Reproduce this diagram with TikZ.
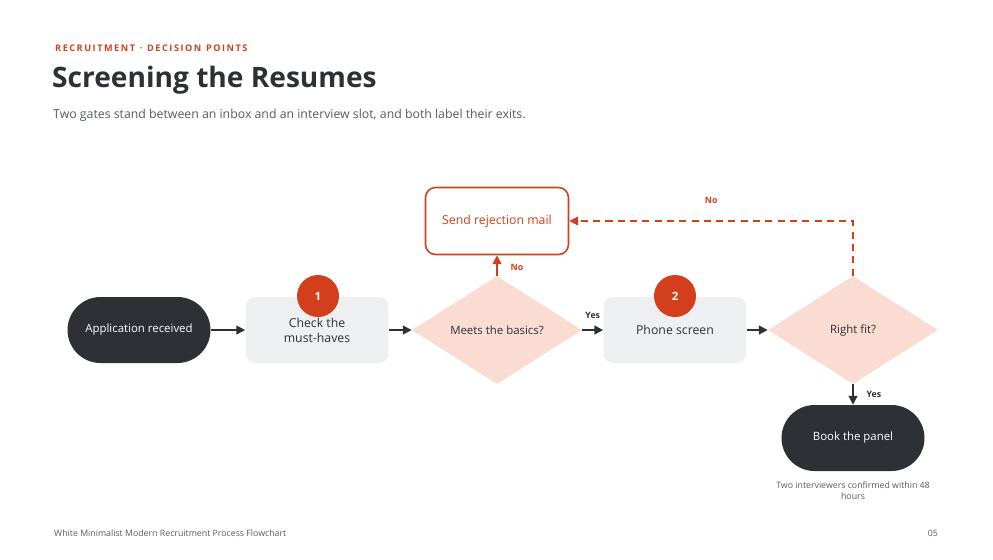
\documentclass[tikz,border=0pt]{standalone}
\usepackage{fontspec}
\setmainfont{Open Sans}
\usetikzlibrary{shapes.geometric,arrows.meta}
\definecolor{ink}{HTML}{2D3035}
\definecolor{rust}{HTML}{D33F1C}
\definecolor{blush}{HTML}{FADCD2}
\definecolor{mist}{HTML}{EEEFF1}
\definecolor{grey}{HTML}{555A60}
\tikzset{
	pill/.style={rounded corners=33*0.02cm, fill=ink, text=white, minimum width=2.86cm, minimum height=1.32cm, font=\fontsize{6.5}{8}\selectfont},
	box/.style={rounded corners=0.2cm, fill=mist, text=ink, minimum width=2.86cm, minimum height=1.32cm, align=center, font=\fontsize{7}{8.5}\selectfont},
	gate/.style={diamond, aspect=1.57, fill=blush, text=ink, inner sep=0pt, minimum width=3.4cm, minimum height=2.16cm, font=\fontsize{6.5}{8}\selectfont},
	badge/.style={circle, fill=rust, text=white, minimum size=0.84cm, inner sep=0pt, font=\bfseries\fontsize{6.5}{8}\selectfont},
	flow/.style={-{Triangle[length=5pt,width=5pt]}, ink, line width=0.9pt},
	back/.style={-{Triangle[length=5pt,width=5pt]}, rust, line width=0.9pt},
	tag/.style={font=\bfseries\fontsize{5}{6}\selectfont},
}
\begin{document}
\begin{tikzpicture}[x=0.02cm,y=-0.02cm]
	\useasboundingbox (0,0) rectangle (993,559);
	
	\node[anchor=west, text=rust, font=\bfseries\fontsize{5.2}{6}\selectfont] (kicker) at (49,48) {R\,E\,C\,R\,U\,I\,T\,M\,E\,N\,T\ \ ·\ \ D\,E\,C\,I\,S\,I\,O\,N\ \ P\,O\,I\,N\,T\,S};
	\node[anchor=west, text=ink, font=\bfseries\fontsize{16}{18}\selectfont] (title) at (46,80) {Screening the Resumes};
	\node[anchor=west, text=grey, font=\fontsize{7}{8}\selectfont] (sub) at (47,115) {Two gates stand between an inbox and an interview slot, and both label their exits.};
	
	%%%%%%%%%%%%%%%%
	
	\node[pill] (start) at (139,330) {Application received};
	\node[box] (check) at (317,330) {Check the\\must-haves};
	\node[badge] (one) at (318,296) {1};
	\node[gate] (basics) at (497,330) {Meets the basics?};
	\node[rounded corners=0.2cm, draw=rust, line width=0.9pt, fill=white, text=rust, minimum width=2.86cm, minimum height=1.34cm, font=\fontsize{7}{8.5}\selectfont] (reject) at (497,221) {Send rejection mail};
	\node[box] (phone) at (675,330) {Phone screen};
	\node[badge] (two) at (675,296) {2};
	\node[gate] (fit) at (853,330) {Right fit?};
	\node[pill] (panel) at (853,438) {Book the panel};
	\node[align=center, text=grey, font=\fontsize{5}{6.2}\selectfont] (note) at (853,491) {Two interviewers confirmed within 48\\hours};
	
	%%%%%%%%%%%%%%%%
	
	\draw[flow] (start)--(check);
	\draw[flow] (check)--(basics);
	\draw[flow] (basics)--(phone) node[tag, pos=0.5, above=3pt] {Yes};
	\draw[flow] (phone)--(fit);
	\draw[flow] (fit)--(panel) node[tag, pos=0.5, right=4pt] {Yes};
	\draw[back] (basics.north)--(reject) node[tag, text=rust, pos=0.4, right=4pt] {No};
	\draw[back, dashed, dash pattern=on 4pt off 3pt] (fit.north) |- (reject.east) node[tag, text=rust, pos=0.75, above=6pt] {No};
	
	\node[anchor=west, text=grey, font=\fontsize{5}{6}\selectfont] (foot) at (48,533) {White Minimalist Modern Recruitment Process Flowchart};
	\node[anchor=east, text=grey, font=\fontsize{5}{6}\selectfont] (page) at (944,533) {05};
\end{tikzpicture}
\end{document}
